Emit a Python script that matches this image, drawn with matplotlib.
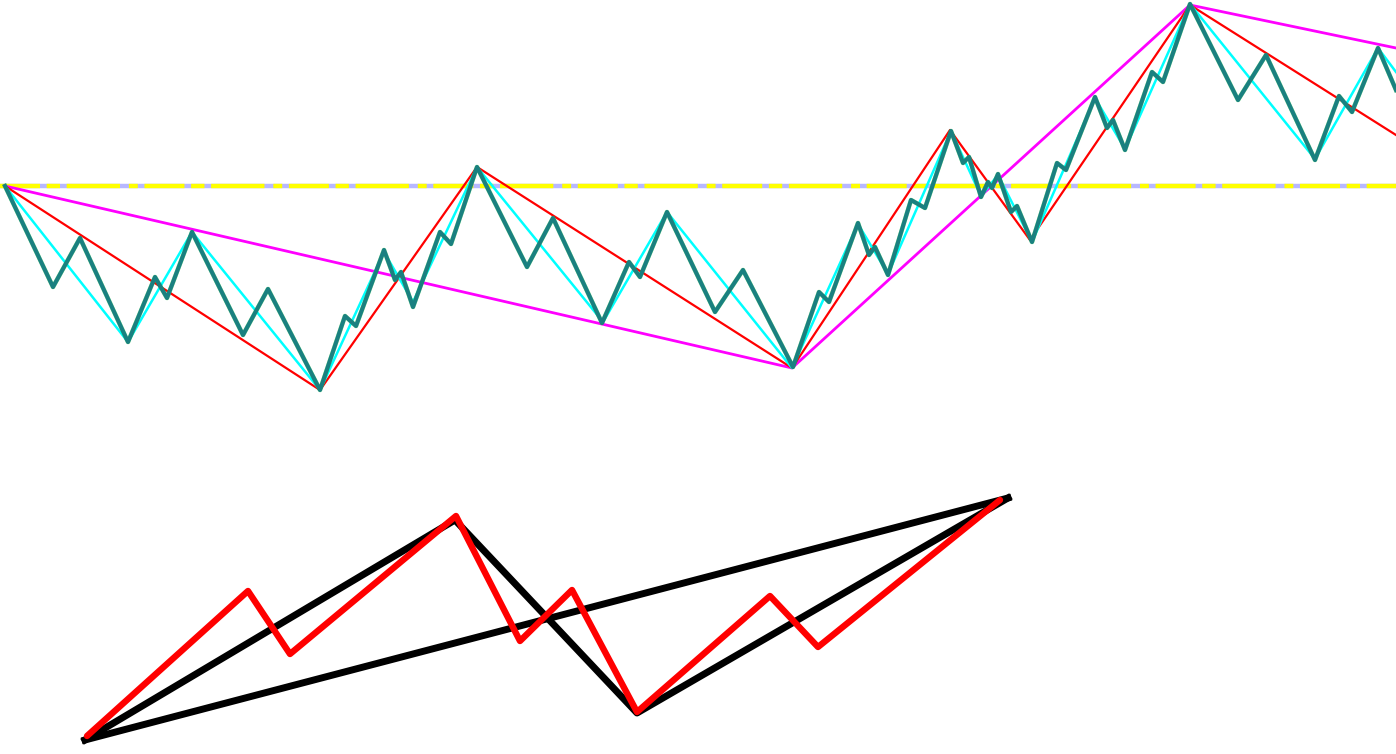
import matplotlib
matplotlib.use("Agg")
import matplotlib.pyplot as plt

# pixel-space coordinates (y grows downwards)
level_y = 186

mag_x = [5, 792, 1190, 1396]
mag_y = [186, 368, 5, 48]

red_x = [5, 320, 477, 792, 950, 1030, 1190, 1396]
red_y = [186, 390, 167, 368, 130, 240, 5, 135]

cyan_x = [5, 128, 192, 320, 384, 413, 477, 603, 667, 792, 858, 888,
          951, 981, 998, 1032, 1095, 1125, 1190, 1315, 1378, 1396]
cyan_y = [186, 342, 232, 390, 252, 302, 167, 322, 212, 368, 224, 274,
          131, 196, 175, 242, 98, 149, 4, 159, 48, 72]

teal_x = [5, 53, 80, 128, 155, 167, 192, 243, 268, 320,
          345, 356, 384, 395, 401, 413, 440, 451, 477,
          527, 553, 602, 629, 640, 667, 715, 743, 793,
          819, 829, 858, 869, 875, 888, 911, 925, 951,
          963, 969, 981, 988, 992, 998, 1011, 1017, 1032,
          1057, 1066, 1095, 1107, 1113, 1125, 1152, 1163, 1190,
          1238, 1266, 1315, 1339, 1352, 1378, 1396]
teal_y = [186, 287, 238, 342, 277, 298, 232, 335, 289, 390,
          316, 326, 250, 280, 272, 307, 232, 244, 167,
          267, 218, 323, 262, 277, 212, 312, 270, 367,
          292, 302, 223, 255, 247, 275, 200, 208, 131,
          163, 157, 197, 182, 188, 174, 212, 206, 242,
          163, 170, 97, 128, 120, 150, 72, 82, 4,
          100, 55, 160, 96, 112, 48, 90]

# bottom figure: generator (black) and its second level (red)
gen_x = [85, 455, 637, 1008]
gen_y = [740, 520, 713, 498]
chord_x = [85, 1008]
chord_y = [740, 498]
sub_x = [87, 248, 290, 456, 520, 572, 637, 770, 818, 1000]
sub_y = [736, 591, 654, 516, 641, 590, 712, 596, 647, 500]

fig = plt.figure(figsize=(13.96, 7.54), dpi=100)
ax = fig.add_axes([0, 0, 1, 1])
ax.set_xlim(0, 1396)
ax.set_ylim(754, 0)
ax.axis("off")

ax.plot([0, 1396], [level_y, level_y], color="#b8b8ff", lw=3.2, solid_capstyle="butt")
ax.plot([0, 1396], [level_y, level_y], color="#ffff00", lw=3.2,
        dashes=(9, 1.5, 3, 1.5, 12, 2, 2, 1.5), solid_capstyle="butt")

ax.plot(mag_x, mag_y, color="#ff00ff", lw=2.0)
ax.plot(red_x, red_y, color="#ff0000", lw=1.6)
ax.plot(cyan_x, cyan_y, color="#00ffff", lw=1.8)
ax.plot(teal_x, teal_y, color="#00e000", lw=3.3, alpha=0.35)
ax.plot(teal_x, teal_y, color="#1a8080", lw=3.0)

ax.plot(chord_x, chord_y, color="black", lw=5.0, solid_capstyle="projecting")
ax.plot(gen_x, gen_y, color="black", lw=5.0, solid_capstyle="projecting")
ax.plot(sub_x, sub_y, color="#ff0000", lw=4.6, solid_capstyle="round")

fig.savefig("out.png", dpi=100)
